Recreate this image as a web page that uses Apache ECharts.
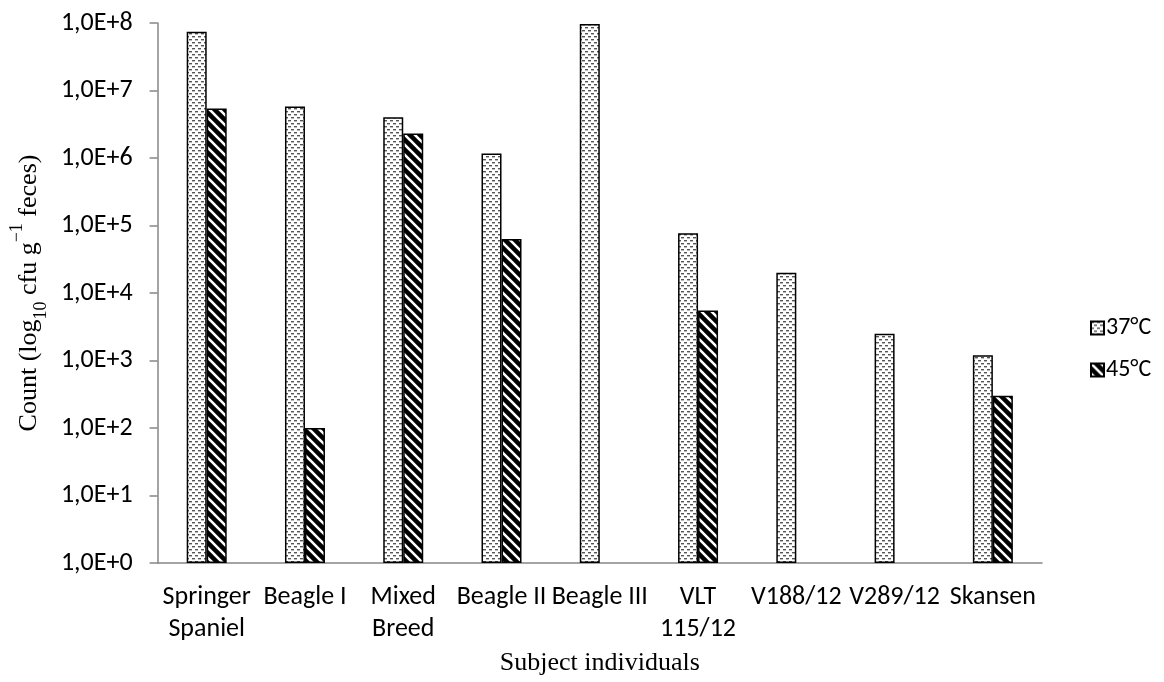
<!DOCTYPE html>
<html>
<head>
<meta charset="utf-8">
<script src="https://cdn.jsdelivr.net/npm/echarts@6/dist/echarts.min.js"></script>
<style>
html,body{margin:0;padding:0;background:#fff;}
#chart{width:1164px;height:682px;}
</style>
</head>
<body>
<div id="chart"></div>
<script>
const categories = ['Springer\nSpaniel', 'Beagle I', 'Mixed\nBreed', 'Beagle II', 'Beagle III', 'VLT\n115/12', 'V188/12', 'V289/12', 'Skansen'];
const seriesNames = ['37°C', '45°C'];
const values37 = [7.4e7, 5.8e6, 4.0e6, 1.17e6, 9.7e7, 7.7e4, 2.0e4, 2.5e3, 1.2e3];
const values45 = [5.4e6, 1.0e2, 2.3e6, 6.3e4, null, 5.5e3, null, null, 3.0e2];
const yTickExponents = [0, 1, 2, 3, 4, 5, 6, 7, 8];

function dotPattern() {
  const c = document.createElement('canvas');
  c.width = 6; c.height = 6;
  const g = c.getContext('2d');
  g.fillStyle = '#ffffff'; g.fillRect(0, 0, 6, 6);
  g.fillStyle = '#555555';
  g.fillRect(0, 0, 3, 1);
  g.fillRect(3, 3, 3, 1);
  g.fillStyle = '#bbbbbb';
  g.fillRect(0, 1, 3, 1);
  g.fillRect(3, 4, 3, 1);
  return c;
}
function stripePattern() {
  const s = 10;
  const c = document.createElement('canvas');
  c.width = s; c.height = s;
  const g = c.getContext('2d');
  g.fillStyle = '#000000'; g.fillRect(0, 0, s, s);
  g.strokeStyle = '#ffffff'; g.lineWidth = 2.6;
  g.beginPath();
  g.moveTo(-s, 0); g.lineTo(s, 2 * s);
  g.moveTo(0, 0); g.lineTo(s, s);
  g.moveTo(0, -s); g.lineTo(2 * s, s);
  g.stroke();
  return c;
}

const chart = echarts.init(document.getElementById('chart'), null, {renderer: 'canvas'});
const labelFont = 'Carlito, Lato, "Open Sans", sans-serif';
const serif = '"Liberation Serif", "DejaVu Serif", serif';

chart.setOption({
  animation: false,
  backgroundColor: '#ffffff',
  grid: {left: 143, right: 122, top: 23, bottom: 119, containLabel: false},
  legend: {
    orient: 'vertical',
    left: 1090,
    top: 316,
    itemWidth: 13,
    itemHeight: 13,
    itemGap: 18,
    icon: 'rect',
    padding: 0,
    textStyle: {fontFamily: labelFont, fontSize: 24, color: '#000', padding: [0, 0, 0, -3]},
    data: seriesNames
  },
  xAxis: {
    type: 'category',
    data: categories,
    axisLine: {lineStyle: {color: '#868686', width: 1.5}},
    axisTick: {show: false},
    axisLabel: {interval: 0, color: '#000', fontFamily: labelFont, fontSize: 26, lineHeight: 32, margin: 18},
    name: 'Subject individuals',
    nameLocation: 'middle',
    nameGap: 85,
    nameTextStyle: {fontFamily: serif, fontSize: 26, color: '#000'}
  },
  yAxis: {
    type: 'log',
    logBase: 10,
    min: 1,
    max: 1e8,
    splitLine: {show: false},
    axisLine: {show: true, lineStyle: {color: '#868686', width: 1.5}},
    axisTick: {show: true, inside: false, length: 8, lineStyle: {color: '#868686', width: 1.5}},
    axisLabel: {
      color: '#000', fontFamily: labelFont, fontSize: 26, margin: 25,
      formatter: function (v) {
        const e = Math.round(Math.log10(v));
        return yTickExponents.indexOf(e) >= 0 ? '1,0E+' + e : '';
      }
    },
    name: 'Count (log{sub|10} cfu g{sup|−1} feces)',
    nameLocation: 'middle',
    nameGap: 113,
    nameRotate: 90,
    nameTextStyle: {
      fontFamily: serif, fontSize: 26, color: '#000',
      rich: {
        sub: {fontFamily: serif, fontSize: 18, color: '#000', verticalAlign: 'bottom', padding: [0, 0, -8, 0]},
        sup: {fontFamily: serif, fontSize: 18, color: '#000', verticalAlign: 'top', padding: [-8, 0, 0, 0]}
      }
    }
  },
  series: [
    {
      name: seriesNames[0], type: 'bar', data: values37, barWidth: 20, barGap: '0%',
      itemStyle: {color: {image: dotPattern(), repeat: 'repeat'}, borderColor: '#000', borderWidth: 1.5}
    },
    {
      name: seriesNames[1], type: 'bar', data: values45, barWidth: 20, barGap: '0%',
      itemStyle: {color: {image: stripePattern(), repeat: 'repeat'}, borderColor: '#000', borderWidth: 1.5}
    }
  ]
});
</script>
</body>
</html>
